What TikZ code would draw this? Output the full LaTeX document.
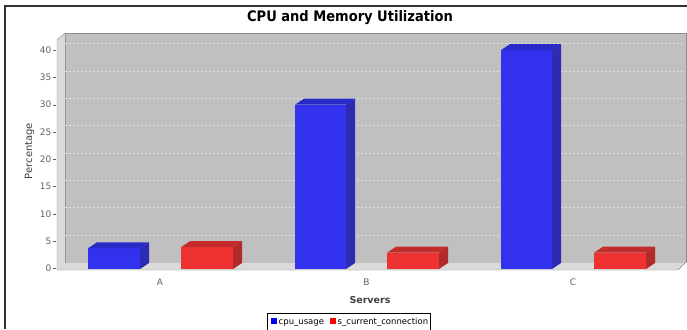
\documentclass[tikz,border=0pt]{standalone}
\usepackage{fontspec}
\setmainfont{DejaVu Sans}
\newfontfamily\titlefont{DejaVu Sans Condensed}

\definecolor{wallgray}{RGB}{192,192,192}
\definecolor{sidegray}{RGB}{218,218,218}
\definecolor{edgegray}{RGB}{140,140,140}
\definecolor{gridgray}{RGB}{226,226,226}
\definecolor{ticktext}{RGB}{96,96,96}
\definecolor{labeltext}{RGB}{64,64,64}
\definecolor{cpufront}{RGB}{50,50,238}
\definecolor{cputop}{RGB}{42,42,200}
\definecolor{cpuside}{RGB}{44,44,178}
\definecolor{connfront}{RGB}{238,50,50}
\definecolor{conntop}{RGB}{196,44,44}
\definecolor{connside}{RGB}{178,42,42}

% 3D bar: left x, right x, top y, colour prefix
\newcommand{\cubebar}[4]{%
  \fill [#4front] (#1,269) rectangle (#2,#3);
  \fill [#4side] (#2,269) -- (#2+9,263) -- (#2+9,#3-6) -- (#2,#3) -- cycle;
  \fill [#4top] (#1,#3) -- (#1+9,#3-6) -- (#2+9,#3-6) -- (#2,#3) -- cycle;
}

\tikzset{
  ticklabel/.style={font=\fontsize{9}{9}\selectfont, text=ticktext, anchor=east, inner sep=0pt},
  axislabel/.style={font=\fontsize{10}{10}\selectfont, text=labeltext, inner sep=0pt},
  legendtext/.style={font=\fontsize{8.5}{8.5}\selectfont, text=black, anchor=base west, inner sep=0pt}
}

\begin{document}
\begin{tikzpicture}[x=1pt, y=-1pt]
\useasboundingbox (0,0) rectangle (687,329);

%Outer frame
\draw [line width=1.2pt, black!80] (5,329) -- (5,6) -- (687,6);

%Title
\node (title) at (350,18) {\titlefont\fontsize{14.5}{14.5}\selectfont\bfseries CPU and Memory Utilization};

%Back wall
\fill [wallgray] (65,33) rectangle (686,263);
\draw [edgegray] (65,263) -- (65,33) -- (686,33) -- (686,263);

%Left wall and floor
\fill [sidegray] (57,40) -- (65,33) -- (65,263) -- (57,270) -- cycle;
\fill [sidegray] (57,270) -- (65,263) -- (685,263) -- (678,270) -- cycle;
\draw [edgegray] (57,270) -- (57,40) -- (65,33);
\draw [edgegray] (57,270) -- (678,270) -- (685,263);

%Grid lines and ticks
\foreach \v in {0,5,...,40} {
  \pgfmathsetmacro{\yv}{268.5-5.46*\v}
  \ifnum\v>0
    \draw [gridgray, dash pattern=on 2pt off 2pt] (65,\yv-6.5) -- (685,\yv-6.5);
  \fi
  \draw [ticktext] (53,\yv) -- (56,\yv);
  \node [ticklabel] (tick\v) at (51.5,\yv) {\v};
}

%Bars A
\cubebar{88}{140}{248.3}{cpu}
\cubebar{181}{233}{247.2}{conn}

%Bars B
\cubebar{295}{346}{104.7}{cpu}
\cubebar{387}{439}{252.7}{conn}

%Bars C
\cubebar{501}{552}{50.1}{cpu}
\cubebar{594}{646}{252.7}{conn}

%Category labels
\node [ticklabel, anchor=center] (catA) at (160,282) {A};
\node [ticklabel, anchor=center] (catB) at (366.5,282) {B};
\node [ticklabel, anchor=center] (catC) at (573,282) {C};

%Axis labels
\node [axislabel, rotate=90] (ylabel) at (29.5,151) {Percentage};
\node [axislabel, font=\fontsize{9.5}{9.5}\selectfont\bfseries] (xlabel) at (370,300) {Servers};

%Legend
\draw [black, line width=0.6pt] (267,333) -- (267,313) -- (430,313) -- (430,333);
\fill [blue] (270.5,318) rectangle (276.5,324);
\node [legendtext] (cpuitem) at (278.5,324.5) {cpu\_usage};
\fill [red] (329.5,318) rectangle (335.5,324);
\node [legendtext] (connitem) at (337.5,324.5) {s\_current\_connection};

\end{tikzpicture}
\end{document}
